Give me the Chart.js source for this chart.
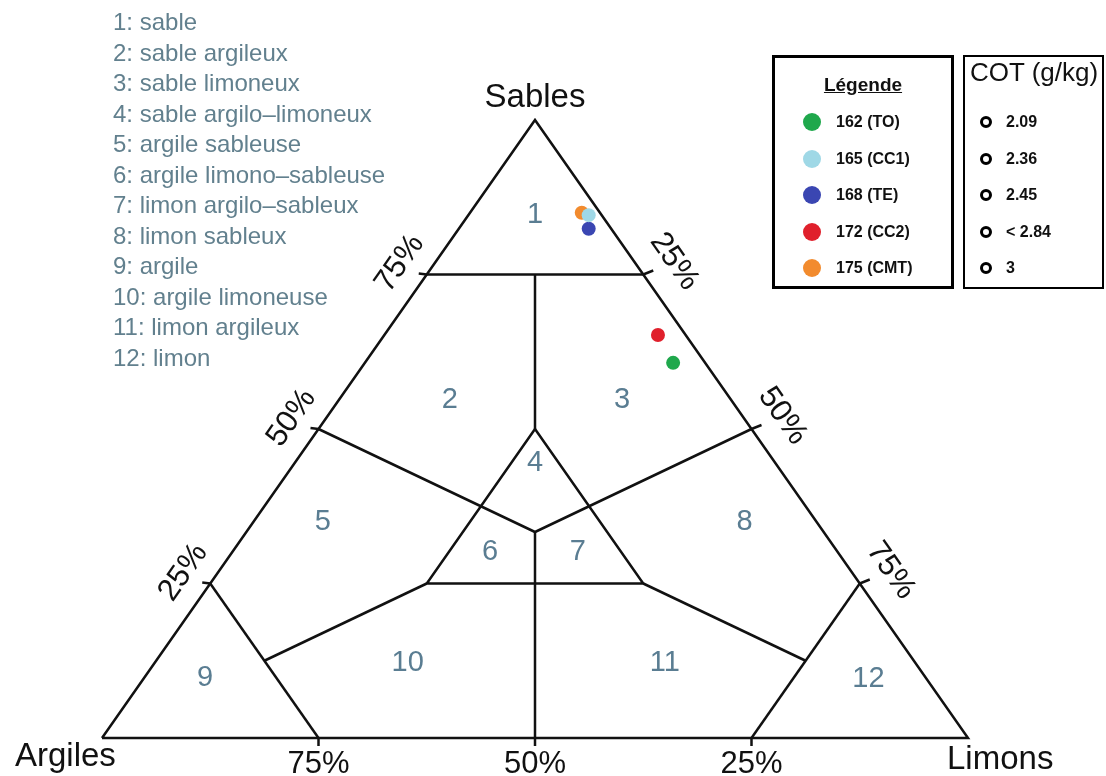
<!DOCTYPE html>
<html><head><meta charset="utf-8">
<script src="https://cdn.jsdelivr.net/npm/chart.js@4/dist/chart.umd.min.js"></script>
<style>
html,body{margin:0;padding:0;background:#fff;}
#wrap{position:relative;width:1106px;height:776px;overflow:hidden;background:#fff;}
#c{position:absolute;left:0;top:0;}
.t{position:absolute;font-family:'Liberation Sans',Arial,Helvetica,sans-serif;white-space:nowrap;}
.box{position:absolute;border:3px solid #000;box-sizing:border-box;}
.list{color:#62808e;font-size:24px;line-height:30.5px;}
.lg{font-weight:bold;font-size:16px;color:#111;line-height:20px;}
.dot{position:absolute;border-radius:50%;}
.ring{position:absolute;border-radius:50%;border:3px solid #000;box-sizing:border-box;}
</style></head>
<body>
<div id="wrap">
<canvas id="c" width="1106" height="776"></canvas>
</div>
<script>
// ---- data ----
const classNames = ['sable','sable argileux','sable limoneux','sable argilo–limoneux','argile sableuse','argile limono–sableuse','limon argilo–sableux','limon sableux','argile','argile limoneuse','limon argileux','limon'];
const sampleNames = ['162 (TO)','165 (CC1)','168 (TE)','172 (CC2)','175 (CMT)'];
const sandPct = [60.7, 84.6, 82.4, 65.2, 85.0];
const siltPct = [35.6, 13.9, 15.0, 31.6, 12.9];
const clayPct = [3.7, 1.5, 2.6, 3.2, 2.1];
const cotLabels = ['2.09','2.36','2.45','< 2.84','3'];
const tickValues = [25, 50, 75];
const vertexNames = ['Sables','Argiles','Limons'];
// texture class label anchors (sand %, silt %)
const classLabelSand = [84.6, 54.7, 54.7, 44.5, 35.0, 30.1, 30.1, 35.0, 9.7, 12.1, 12.1, 9.5];
const classLabelSilt = [7.7, 12.8, 32.7, 27.75, 8.0, 29.75, 39.9, 56.7, 7.05, 29.25, 58.95, 83.75];
// class boundaries as polylines of [sand, silt] (clay = 100 - sand - silt)
const third = 100/3;
const boundaries = [
  [[0,0],[100,0],[0,100],[0,0]],
  [[75,0],[75,25]],
  [[75,12.5],[50,25]],
  [[50,25],[25,25],[25,50],[50,25]],
  [[50,0],[third,third],[50,50]],
  [[third,third],[0,50]],
  [[25,0],[0,25]],
  [[25,75],[0,75]],
  [[25,25],[12.5,12.5]],
  [[25,50],[12.5,75]]
];
const sampleColors = ['#1fa84c','#9fd8e6','#3a46b2','#e0202c','#f28b2e'];
const textColor = '#5a7d92';
const FONT = "'Liberation Sans', Arial, Helvetica, sans-serif";

const toXY = (s, l) => ({x: l + s / 2, y: s});

const datasets = [];
sampleNames.forEach((n, i) => {
  datasets.push({
    label: n,
    data: [toXY(sandPct[i], siltPct[i])],
    pointRadius: 7, pointHoverRadius: 7,
    backgroundColor: sampleColors[i], borderColor: sampleColors[i], borderWidth: 0,
    clip: false, order: 0
  });
});
boundaries.forEach((seg, i) => {
  datasets.push({
    label: 'b' + i,
    data: seg.map(p => toXY(p[0], p[1])),
    showLine: true, pointRadius: 0, borderColor: '#111', borderWidth: 2.5,
    tension: 0, clip: false, order: 1, borderJoinStyle: 'miter'
  });
});

const textPlugin = {
  id: 'ternaryText',
  afterDatasetsDraw(chart) {
    const {ctx} = chart;
    const xs = chart.scales.x, ys = chart.scales.y;
    const P = (s, l) => [xs.getPixelForValue(l + s / 2), ys.getPixelForValue(s)];
    const seg = (a, b, c, d) => { ctx.beginPath(); ctx.moveTo(a, b); ctx.lineTo(c, d); ctx.stroke(); };
    ctx.save();
    ctx.strokeStyle = '#111'; ctx.lineWidth = 2.5;
    const ang = Math.atan2(ys.getPixelForValue(0) - ys.getPixelForValue(100), xs.getPixelForValue(50) - xs.getPixelForValue(0));
    ctx.fillStyle = '#111';
    ctx.font = '31px ' + FONT;
    ctx.textAlign = 'center'; ctx.textBaseline = 'middle';
    tickValues.forEach(v => {
      // left edge: sand %
      let [px, py] = P(v, 0);
      seg(px, py, px - 8, py - 1);
      ctx.save(); ctx.translate(px - 27, py - 11); ctx.rotate(-ang); ctx.fillText(v + '%', 0, 0); ctx.restore();
      // right edge: silt %
      [px, py] = P(100 - v, v);
      seg(px, py, px + 10, py - 4);
      ctx.save(); ctx.translate(px + 31, py - 13); ctx.rotate(ang); ctx.fillText(v + '%', 0, 0); ctx.restore();
      // bottom: clay %
      [px, py] = P(0, 100 - v);
      seg(px, py, px, py + 8);
      ctx.save(); ctx.textBaseline = 'alphabetic'; ctx.fillText(v + '%', px, py + 35); ctx.restore();
    });
    // vertex names
    ctx.font = '33px ' + FONT; ctx.textBaseline = 'alphabetic';
    let [ax, ay] = P(100, 0);
    ctx.textAlign = 'center'; ctx.fillText(vertexNames[0], ax, ay - 13);
    [ax, ay] = P(0, 0);
    ctx.textAlign = 'left'; ctx.fillText(vertexNames[1], ax - 87, ay + 28);
    [ax, ay] = P(0, 100);
    ctx.fillText(vertexNames[2], ax - 21, ay + 31);
    // class numbers
    ctx.fillStyle = textColor; ctx.font = '29px ' + FONT;
    ctx.textAlign = 'center'; ctx.textBaseline = 'middle';
    classLabelSand.forEach((s, i) => {
      const [px, py] = P(s, classLabelSilt[i]);
      ctx.fillText(String(i + 1), px, py);
    });
    ctx.restore();
  }
};

new Chart(document.getElementById('c'), {
  type: 'scatter',
  data: {datasets},
  options: {
    responsive: false, animation: false, devicePixelRatio: 1,
    layout: {padding: {left: 102, right: 138, top: 120, bottom: 38}},
    scales: {
      x: {type: 'linear', min: 0, max: 100, display: false},
      y: {type: 'linear', min: 0, max: 100, display: false}
    },
    plugins: {legend: {display: false}, tooltip: {enabled: false}},
    events: []
  },
  plugins: [textPlugin]
});

// ---- HTML texts: class list and legends ----
const wrap = document.getElementById('wrap');
function add(cls, html, css) {
  const d = document.createElement('div');
  d.className = cls; d.innerHTML = html; Object.assign(d.style, css); wrap.appendChild(d); return d;
}
add('t list', classNames.map((n, i) => (i + 1) + ': ' + n).join('<br>'), {left: '113px', top: '7px'});
add('box', '', {left: '772px', top: '55px', width: '182px', height: '234px'});
add('box', '', {left: '963px', top: '55px', width: '141px', height: '234px', borderWidth: '2px'});
add('t lg', '<u>Légende</u>', {left: '772px', width: '182px', textAlign: 'center', top: '74px', fontSize: '19px', lineHeight: '22px'});
add('t', 'COT (g/kg)', {left: '970px', top: '57px', fontSize: '26px', color: '#111', lineHeight: '30px'});
sampleNames.forEach((n, i) => {
  const cy = 122 + i * 36.5;
  add('dot', '', {left: (812 - 9) + 'px', top: (cy - 9) + 'px', width: '18px', height: '18px', background: sampleColors[i]});
  add('t lg', n, {left: '836px', top: (cy - 10) + 'px'});
  add('ring', '', {left: (986 - 6) + 'px', top: (cy - 6) + 'px', width: '12px', height: '12px'});
  add('t lg', cotLabels[i], {left: '1006px', top: (cy - 10) + 'px'});
});
</script>
</body></html>
